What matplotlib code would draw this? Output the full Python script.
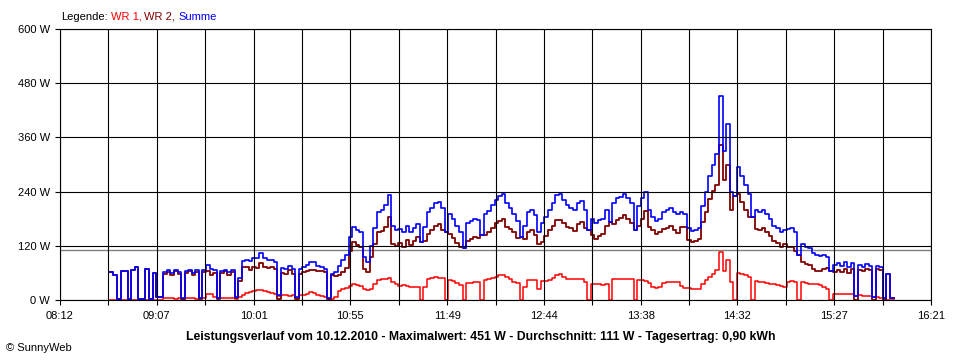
import numpy as np
import matplotlib.pyplot as plt

plt.rcParams['font.family'] = ['Liberation Sans', 'DejaVu Sans']

# Messwerte alle 2 Minuten ab 08:40 (Minuten seit Mitternacht)
start_min = 520
step_min = 2

# WR 1 (rot), Watt
wr1 = [0, 0, 0, 0, 0, 0, 0, 0, 0, 0,
       0, 0, 0, 0, 0, 4, 4, 4, 3, 4,
       3, 4, 4, 4, 3, 4, 4, 14, 15, 8,
       4, 4, 4, 5, 4, 3, 8, 12, 17, 18,
       20, 22, 22, 20, 18, 16, 14, 10, 11, 12,
       10, 11, 6, 12, 12, 14, 18, 17, 12, 10,
       8, 3, 2, 8, 20, 25, 28, 32, 35, 33,
       32, 26, 22, 24, 35, 45, 46, 48, 49, 40,
       36, 32, 33, 31, 30, 30, 29, 0, 30, 48,
       50, 51, 50, 50, 0, 44, 42, 38, 33, 0,
       38, 39, 40, 40, 0, 45, 48, 50, 52, 55,
       56, 52, 48, 40, 38, 0, 30, 45, 44, 44,
       25, 42, 42, 45, 50, 55, 58, 52, 48, 46,
       46, 47, 47, 40, 0, 36, 35, 35, 34, 35,
       0, 46, 47, 47, 47, 46, 46, 0, 44, 45,
       42, 38, 30, 28, 30, 38, 40, 40, 40, 41,
       32, 28, 27, 26, 25, 25, 36, 45, 52, 58,
       68, 107, 65, 90, 40, 0, 60, 58, 55, 52,
       0, 42, 40, 40, 38, 37, 35, 33, 32, 30,
       40, 42, 40, 0, 40, 38, 36, 36, 35, 34,
       30, 24, 0, 15, 15, 14, 15, 14, 13, 10,
       11, 10, 10, 9, 8, 7, 6, 4, 0, 0,
       0]

# WR 2 (dunkelrot), Watt
wr2 = [62, 56, 2, 65, 64, 2, 67, 73, 2, 2,
       69, 2, 60, 7, 7, 58, 62, 56, 65, 59,
       2, 61, 64, 57, 63, 2, 62, 64, 55, 60,
       2, 60, 64, 57, 62, 5, 42, 74, 73, 68,
       74, 71, 83, 74, 72, 74, 70, 2, 61, 58,
       66, 59, 2, 58, 62, 64, 66, 68, 64, 64,
       62, 3, 56, 54, 55, 63, 72, 108, 128, 122,
       118, 69, 63, 96, 125, 150, 154, 162, 183, 125,
       119, 126, 117, 134, 122, 130, 139, 128, 132, 147,
       155, 164, 168, 155, 150, 146, 138, 127, 117, 115,
       132, 136, 140, 138, 145, 145, 150, 160, 170, 175,
       180, 163, 157, 150, 137, 140, 135, 150, 156, 144,
       125, 128, 143, 155, 165, 177, 178, 170, 162, 159,
       154, 168, 173, 160, 155, 144, 135, 143, 146, 165,
       172, 169, 178, 181, 189, 179, 170, 155, 165, 180,
       198, 162, 155, 147, 150, 157, 160, 165, 155, 149,
       163, 162, 133, 128, 130, 135, 172, 195, 223, 242,
       255, 344, 265, 300, 200, 230, 235, 217, 200, 183,
       185, 158, 155, 160, 152, 143, 130, 127, 118, 125,
       118, 118, 110, 100, 85, 80, 79, 69, 65, 64,
       70, 71, 65, 63, 67, 62, 69, 60, 69, 0,
       67, 64, 70, 67, 0, 69, 68, 1, 58, 5,
       4]

summe = [a + b for a, b in zip(wr1, wr2)]
times = start_min + step_min * np.arange(len(wr1))

x_labels = ["08:12", "09:07", "10:01", "10:55", "11:49",
            "12:44", "13:38", "14:32", "15:27", "16:21"]
y_ticks = [0, 120, 240, 360, 480, 600]
durchschnitt = 111
title = ("Leistungsverlauf vom 10.12.2010 - Maximalwert: 451 W - "
         "Durchschnitt: 111 W - Tagesertrag: 0,90 kWh")

W, H = 960, 360
fig = plt.figure(figsize=(W / 100, H / 100), dpi=100)
ax = fig.add_axes([60 / W, 59.7 / H, 871 / W, 271.5 / H])

ax.axhline(durchschnitt, color='#808080', lw=1.0, zorder=1.5)
ax.plot(times, wr1, color='#ff0000', lw=1.1, drawstyle='steps-post')
ax.plot(times, wr2, color='#800000', lw=1.3, drawstyle='steps-post')
ax.plot(times, summe, color='#0000ff', lw=1.2, drawstyle='steps-post')

ax.set_xlim(492, 981)
ax.set_ylim(0, 600)
ax.set_xticks(np.linspace(492, 981, len(x_labels)))
ax.set_xticklabels(x_labels)
ax.set_xticks(np.linspace(492, 981, 2 * len(x_labels) - 1), minor=True)
ax.set_yticks(y_ticks)
ax.set_yticklabels([f"{v} W" for v in y_ticks])

ax.set_axisbelow(False)
ax.grid(which='both', color='black', lw=0.8)
ax.tick_params(which='both', direction='out', length=3.6, width=0.8,
               color='black', labelsize=8)
ax.tick_params(axis='x', pad=4)
ax.tick_params(axis='y', pad=3.5)
for s in ax.spines.values():
    s.set_linewidth(0.8)

# Legende oben links, farbige Teile nacheinander
renderer = fig.canvas.get_renderer()
legend_parts = [("Legende:", 'black'), ("WR 1,", '#ff0000'),
                ("WR 2,", '#800000'), ("Summe", '#0000ff')]
x = 61
for text, color in legend_parts:
    t = fig.text(x / W, 1 - 16.7 / H, text, color=color, fontsize=8,
                 ha='left', va='center')
    x += t.get_window_extent(renderer).width + 3

fig.text(481 / W, 1 - 337 / H, title, ha='center', va='center',
         fontsize=8.8, fontweight='bold')
fig.text(6 / W, 1 - 348 / H, "© SunnyWeb", ha='left', va='center', fontsize=8)

fig.savefig('out.png', dpi=100)
